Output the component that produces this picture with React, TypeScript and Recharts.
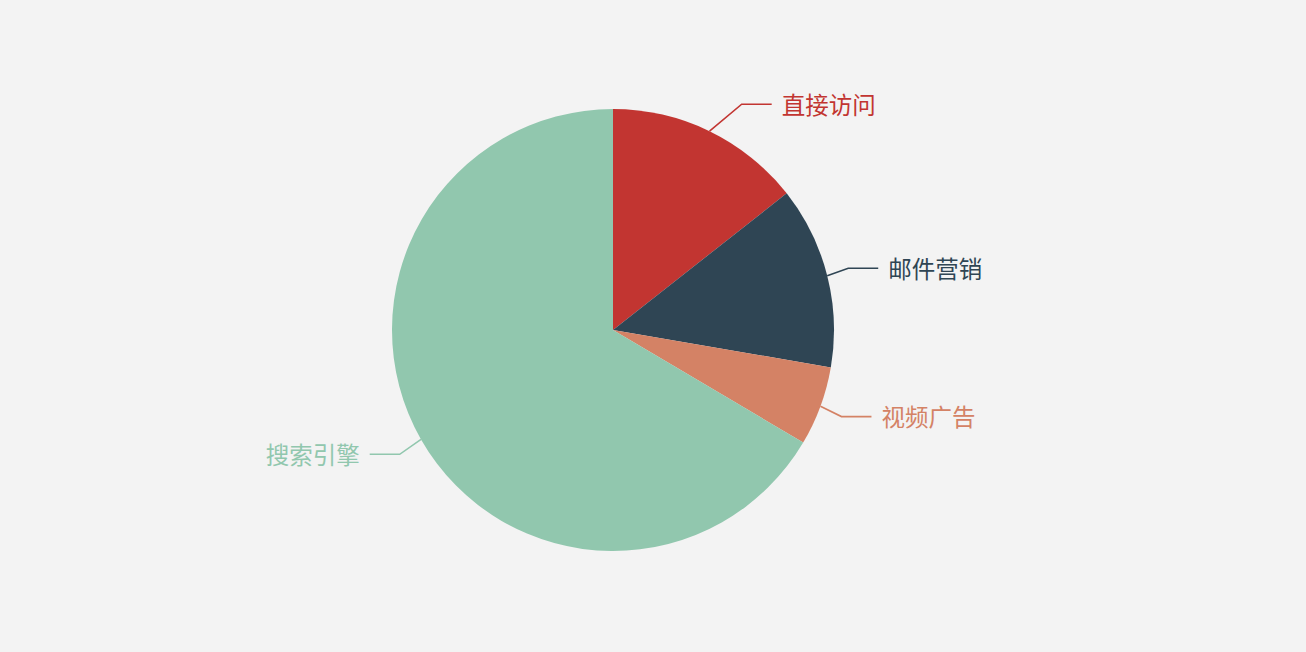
import React from "react";
import { PieChart, Pie, Cell } from "recharts";

const categories = ["直接访问", "邮件营销", "视频广告", "搜索引擎"];
const visits = [335, 310, 135, 1548];
const colors = ["#c23531", "#2f4554", "#d48265", "#91c7ae"];

const data = categories.map((name, i) => ({ name, value: visits[i] }));

const RADIUS = 221;
const LINE1 = 30;
const LINE2 = 30;
const GAP = 10;
// labels sit on an ellipse around the pie, like the echarts layout
const LABEL_RX = 272;
const LABEL_RY = 278;

const RAD = Math.PI / 180;

function renderLabel(props: any) {
  const { cx, cy, midAngle, outerRadius, index, name } = props;
  const color = colors[index];
  const cos = Math.cos(-midAngle * RAD);
  const sin = Math.sin(-midAngle * RAD);
  const dir = cos >= 0 ? 1 : -1;
  const x1 = cx + outerRadius * cos;
  const y1 = cy + outerRadius * sin;
  const y2 = cy + (outerRadius + LINE1) * sin;
  const dy = y2 - cy;
  const x3 = cx + dir * LABEL_RX * Math.sqrt(Math.max(0, 1 - (dy * dy) / (LABEL_RY * LABEL_RY)));
  const x2 = x3 - dir * LINE2;
  return (
    <g>
      <polyline
        points={`${x1},${y1} ${x2},${y2} ${x3},${y2}`}
        fill="none"
        stroke={color}
        strokeWidth={1.6}
      />
      <text
        x={x3 + dir * GAP}
        y={y2 - 0.5}
        fill={color}
        textAnchor={dir > 0 ? "start" : "end"}
        dominantBaseline="central"
        fontSize={23.5}
        fontFamily="'Noto Sans CJK SC', 'Noto Sans', sans-serif"
      >
        {name}
      </text>
    </g>
  );
}

function App() {
  return (
    <div
      style={{
        position: "fixed",
        left: 0,
        top: 0,
        width: 1306,
        height: 652,
        background: "#f3f3f3",
      }}
    >
      <PieChart width={1306} height={652} margin={{ top: 0, right: 0, bottom: 0, left: 0 }}>
        <Pie
          data={data}
          dataKey="value"
          nameKey="name"
          cx={613}
          cy={330}
          outerRadius={RADIUS}
          startAngle={90}
          endAngle={-270}
          stroke="none"
          label={renderLabel}
          labelLine={false}
          isAnimationActive={false}
        >
          {data.map((d, i) => (
            <Cell key={d.name} fill={colors[i]} />
          ))}
        </Pie>
      </PieChart>
    </div>
  );
}

export default App;
